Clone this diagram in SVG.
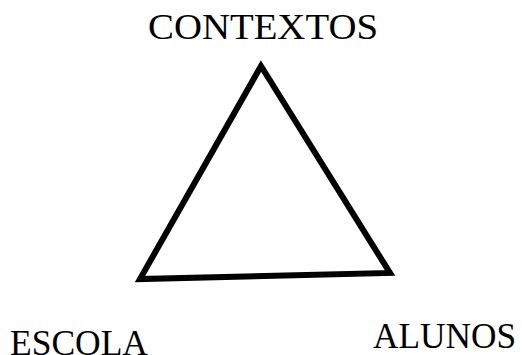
<svg xmlns="http://www.w3.org/2000/svg" width="522" height="355" viewBox="0 0 522 355">
<style>
text{font-family:"Liberation Serif","Times New Roman",serif;fill:#000;font-size:35px}
.tri{fill:none;stroke:#000;stroke-width:6;stroke-linejoin:miter}
</style>
<rect width="522" height="355" fill="#fff"/>
<g id="contextos"><text x="148" y="39" font-size="33" textLength="230" lengthAdjust="spacingAndGlyphs">CONTEXTOS</text></g>
<g id="escola"><text x="10" y="355" textLength="138" lengthAdjust="spacingAndGlyphs">ESCOLA</text></g>
<g id="alunos"><text x="373" y="348" font-size="36" textLength="143" lengthAdjust="spacingAndGlyphs">ALUNOS</text></g>
<g id="connectors"><polygon class="tri" points="261,66 140,279 390,273"/></g>
</svg>
